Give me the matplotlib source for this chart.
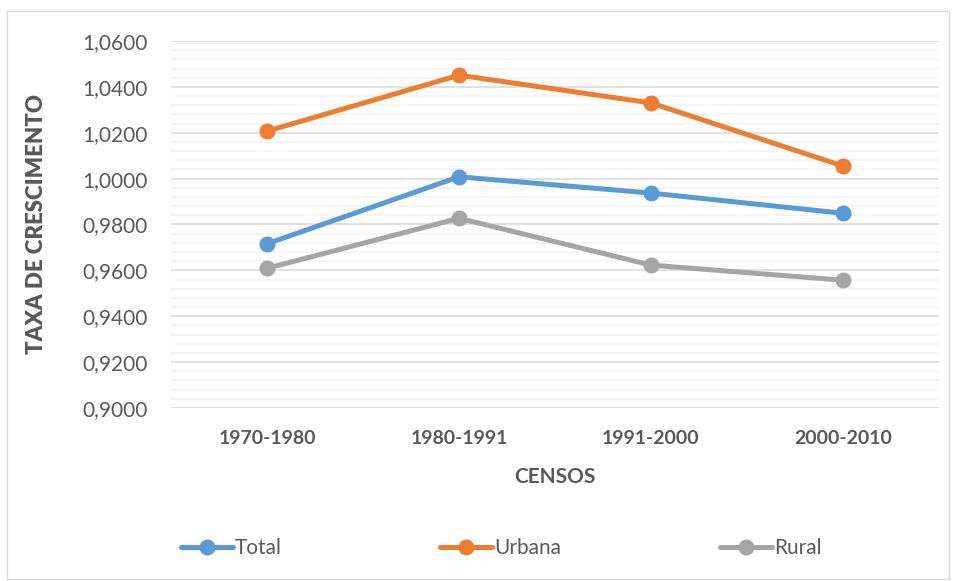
import numpy as np
import matplotlib.pyplot as plt
from matplotlib.ticker import MultipleLocator, FuncFormatter
from matplotlib.patches import Rectangle

plt.rcParams['font.family'] = ['Lato', 'DejaVu Sans']

censos = ['1970-1980', '1980-1991', '1991-2000', '2000-2010']
total = [0.9716, 1.0008, 0.9937, 0.9849]
urbana = [1.0207, 1.0451, 1.0330, 1.0055]
rural = [0.9609, 0.9827, 0.9623, 0.9557]

txt = '#595959'

fig = plt.figure(figsize=(9.56, 5.81), dpi=100)
ax = fig.add_axes([0.1789, 0.2978, 0.8033, 0.6316])

# chart area border
fig.patches.append(Rectangle((0.007, 0.004), 0.986, 0.977, transform=fig.transFigure,
                             fill=False, edgecolor='#D9D9D9', linewidth=1))

x = np.arange(len(censos))
for vals, cor, nome in [(total, '#5B9BD5', 'Total'),
                        (urbana, '#ED7D31', 'Urbana'),
                        (rural, '#A5A5A5', 'Rural')]:
    ax.plot(x, vals, color=cor, lw=3.6, marker='o', ms=10.5, label=nome,
            solid_capstyle='round', zorder=3)

ax.set_xlim(-0.5, 3.5)
ax.set_ylim(0.9, 1.06)
ax.yaxis.set_major_locator(MultipleLocator(0.02))
ax.yaxis.set_minor_locator(MultipleLocator(0.004))
ax.yaxis.set_major_formatter(FuncFormatter(lambda v, p: f'{v:.4f}'.replace('.', ',')))
ax.grid(which='major', axis='y', color='#D9D9D9', lw=1.1)
ax.grid(which='minor', axis='y', color='#F2F2F2', lw=1.1)
ax.set_axisbelow(True)
for s in ax.spines.values():
    s.set_visible(False)
ax.tick_params(which='both', length=0)
ax.tick_params(axis='y', labelsize=15, labelcolor=txt, pad=17)
ax.tick_params(axis='x', labelsize=14, labelcolor=txt, pad=16)
ax.set_xticks(x)
ax.set_xticklabels(censos, fontweight='bold')

ax.set_xlabel('CENSOS', fontsize=15, fontweight='bold', color=txt, labelpad=14)
ax.set_ylabel('TAXA DE CRESCIMENTO', fontsize=16, fontweight='heavy', color=txt, labelpad=25)

leg = fig.legend(loc='center', bbox_to_anchor=(0.524, 0.057), ncol=3, frameon=False,
                 fontsize=15, handlelength=2.5, handletextpad=0.1, columnspacing=7.6)
for t in leg.get_texts():
    t.set_color(txt)

fig.savefig('out.png', dpi=100)
